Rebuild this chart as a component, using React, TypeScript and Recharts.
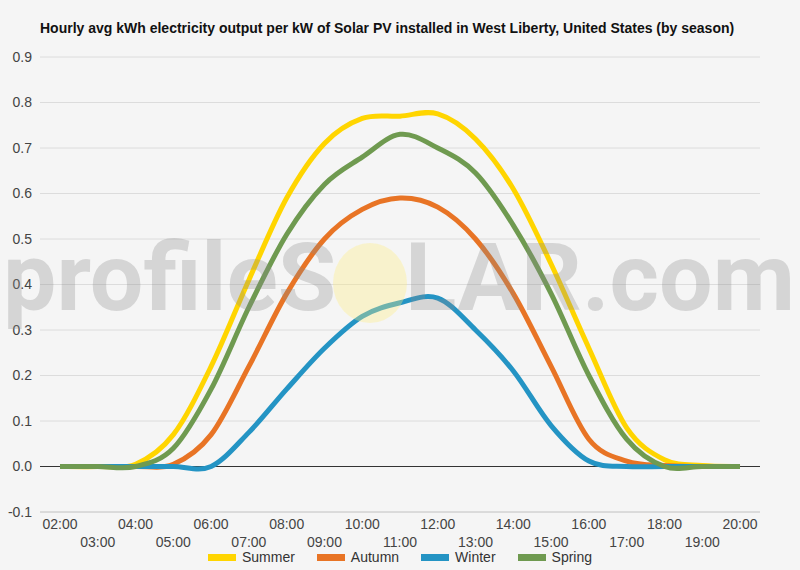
import React from 'react';
import { LineChart, Line, XAxis, YAxis, CartesianGrid, ReferenceLine } from 'recharts';

// hourly labels 02:00 .. 20:00
const hours = [
  '02:00', '03:00', '04:00', '05:00', '06:00', '07:00', '08:00', '09:00', '10:00', '11:00',
  '12:00', '13:00', '14:00', '15:00', '16:00', '17:00', '18:00', '19:00', '20:00',
];

// kWh per kW
const summer = [0, 0, 0.005, 0.07, 0.22, 0.41, 0.59, 0.71, 0.765, 0.77, 0.775, 0.72, 0.61, 0.445, 0.26, 0.085, 0.015, 0.002, 0];
const autumn = [0, 0, 0, 0.005, 0.07, 0.22, 0.38, 0.5, 0.565, 0.59, 0.57, 0.5, 0.38, 0.22, 0.06, 0.012, 0.002, 0, 0];
const winter = [0, 0, 0, 0, 0, 0.075, 0.17, 0.26, 0.33, 0.36, 0.37, 0.3, 0.21, 0.09, 0.012, 0, 0, 0, 0];
const spring = [0, 0, 0, 0.04, 0.17, 0.35, 0.51, 0.62, 0.68, 0.73, 0.7, 0.645, 0.53, 0.38, 0.2, 0.06, 0, 0, 0];

const yTicks = [-0.1, 0, 0.1, 0.2, 0.3, 0.4, 0.5, 0.6, 0.7, 0.8, 0.9];

const seasons = [
  { key: 'summer', name: 'Summer', color: '#FFD500' },
  { key: 'autumn', name: 'Autumn', color: '#E87425' },
  { key: 'winter', name: 'Winter', color: '#2494C4' },
  { key: 'spring', name: 'Spring', color: '#6F9A50' },
];

const data = hours.map((h, i) => ({
  hour: h,
  summer: summer[i],
  autumn: autumn[i],
  winter: winter[i],
  spring: spring[i],
}));

// catmull-rom style smoothing (overshoots a little, like the original)
const smooth = (context: any) => {
  let pts: number[][] = [];
  return {
    areaStart() {},
    areaEnd() {},
    lineStart() {
      pts = [];
    },
    point(x: number, y: number) {
      pts.push([+x, +y]);
    },
    lineEnd() {
      if (!pts.length) return;
      context.moveTo(pts[0][0], pts[0][1]);
      const t = 1 / 6;
      for (let i = 0; i < pts.length - 1; i++) {
        const p0 = pts[Math.max(i - 1, 0)];
        const p1 = pts[i];
        const p2 = pts[i + 1];
        const p3 = pts[Math.min(i + 2, pts.length - 1)];
        context.bezierCurveTo(
          p1[0] + (p2[0] - p0[0]) * t,
          p1[1] + (p2[1] - p0[1]) * t,
          p2[0] - (p3[0] - p1[0]) * t,
          p2[1] - (p3[1] - p1[1]) * t,
          p2[0],
          p2[1]
        );
      }
    },
  };
};

const HourTick = (props: any) => {
  const { x, y, payload, index } = props;
  const dy = index % 2 === 0 ? 9 : 27;
  return (
    <text x={x} y={y} dy={dy} textAnchor="middle" fill="#444" fontSize={14}>
      {payload.value}
    </text>
  );
};

const App = () => {
  return (
    <div
      style={{
        position: 'absolute',
        left: 0,
        top: 0,
        width: 800,
        height: 570,
        background: '#f5f5f5',
        fontFamily: '"Liberation Sans", Arial, sans-serif',
        overflow: 'hidden',
      }}
    >
      <div
        style={{
          position: 'absolute',
          left: 40,
          top: 20,
          fontSize: 14,
          fontWeight: 'bold',
          color: '#111',
          whiteSpace: 'nowrap',
        }}
      >
        Hourly avg kWh electricity output per kW of Solar PV installed in West Liberty, United States (by season)
      </div>

      <LineChart
        width={800}
        height={570}
        data={data}
        margin={{ top: 57, right: 40, left: 0, bottom: 12 }}
        style={{ position: 'absolute', left: 0, top: 0 }}
      >
        <CartesianGrid vertical={false} stroke="#dcdcdc" />
        <XAxis
          dataKey="hour"
          interval={0}
          height={46}
          padding={{ left: 20, right: 20 }}
          axisLine={{ stroke: '#ccc' }}
          tickLine={false}
          tick={<HourTick />}
        />
        <YAxis
          width={40}
          domain={[-0.1, 0.9]}
          ticks={yTicks}
          interval={0}
          axisLine={false}
          tickLine={false}
          tickFormatter={(v: number) => v.toFixed(1)}
          tick={{ fill: '#444', fontSize: 14 }}
        />
        <ReferenceLine y={0} stroke="#333" strokeWidth={1} />
        {seasons.map((s) => (
          <Line
            key={s.key}
            dataKey={s.key}
            name={s.name}
            type={smooth as any}
            stroke={s.color}
            strokeWidth={5}
            dot={false}
            activeDot={false}
            isAnimationActive={false}
          />
        ))}
      </LineChart>

      {/* watermark */}
      <svg
        width={800}
        height={570}
        style={{ position: 'absolute', left: 0, top: 0, pointerEvents: 'none' }}
      >
        <ellipse cx={370} cy={283} rx={37} ry={40} fill="rgba(255, 238, 130, 0.35)" />
        <g fontFamily="Roboto, sans-serif" fontWeight={700} fontSize={95} fill="rgba(140, 140, 140, 0.3)">
          <text x={3} y={310}>profileS</text>
          <text x={405} y={310}>LAR.com</text>
        </g>
      </svg>

      {/* legend */}
      <div
        style={{
          position: 'absolute',
          top: 549,
          left: 0,
          width: 800,
          display: 'flex',
          justifyContent: 'center',
          fontSize: 14,
          color: '#333',
        }}
      >
        {seasons.map((s) => (
          <div key={s.key} style={{ display: 'flex', alignItems: 'center', margin: '0 11px' }}>
            <span style={{ display: 'inline-block', width: 28, height: 7, background: s.color, marginRight: 6 }} />
            <span>{s.name}</span>
          </div>
        ))}
      </div>
    </div>
  );
};

export default App;
